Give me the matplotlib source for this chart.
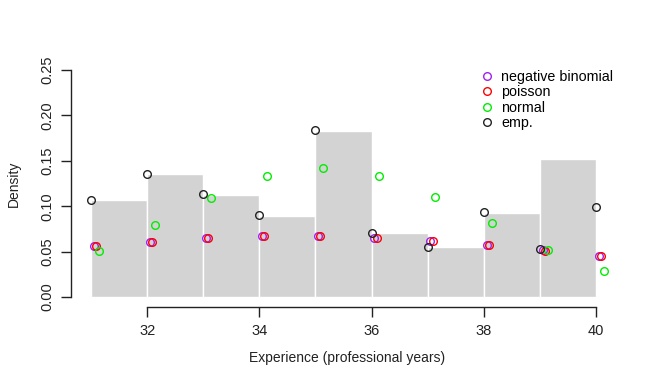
import matplotlib
matplotlib.use("Agg")
import matplotlib.pyplot as plt
import numpy as np

plt.rcParams['font.family'] = ['Liberation Sans', 'DejaVu Sans']

# histogram of experience (density), bins of width 1
bin_edges = [31, 32, 33, 34, 35, 36, 37, 38, 39, 40]
hist_density = [0.107, 0.135, 0.112, 0.089, 0.183, 0.070, 0.055, 0.093, 0.152]

# point estimates per year
years = [31, 32, 33, 34, 35, 36, 37, 38, 39, 40]
emp = [0.107, 0.136, 0.113, 0.090, 0.184, 0.071, 0.055, 0.094, 0.053, 0.099]
nbinom = [0.056, 0.061, 0.065, 0.067, 0.067, 0.065, 0.062, 0.057, 0.052, 0.045]
poisson = [0.056, 0.061, 0.065, 0.067, 0.067, 0.065, 0.062, 0.057, 0.051, 0.045]
normal = [0.051, 0.079, 0.109, 0.133, 0.142, 0.133, 0.110, 0.081, 0.052, 0.029]

W, H = 654, 382
fig = plt.figure(figsize=(W / 100, H / 100), dpi=100)
ax = fig.add_axes([71 / W, 1 - 307 / H, (624 - 71) / W, (307 - 61) / H])

# bars
lefts = np.array(bin_edges[:-1])
widths = np.diff(bin_edges)
ax.bar(lefts, hist_density, width=widths, align='edge',
       color='#d3d3d3', edgecolor='white', linewidth=1.0, zorder=1)

yrs = np.array(years)
series = [
    (nbinom, 0.05, '#a020f0', 'negative binomial'),
    (poisson, 0.09, '#ff0000', 'poisson'),
    (normal, 0.14, '#00ee00', 'normal'),
    (emp, 0.0, '#222222', 'emp.'),
]
handles = []
for vals, off, col, lab in series:
    h, = ax.plot(yrs + off, vals, linestyle='none', marker='o', ms=5.5,
                 mfc='none', mec=col, mew=1.0, label=lab, zorder=3)
    handles.append(h)

ax.set_xlim(31 - 20 / 56.1, 40.5)
ax.set_ylim(-0.011, 0.26)

for s in ['top', 'right']:
    ax.spines[s].set_visible(False)
ax.spines['left'].set_bounds(0, 0.25)
ax.spines['bottom'].set_bounds(32, 40)
for s in ['left', 'bottom']:
    ax.spines[s].set_linewidth(1.0)
    ax.spines[s].set_color('#222222')

ax.set_xticks([32, 34, 36, 38, 40])
ax.set_yticks([0.0, 0.05, 0.10, 0.15, 0.20, 0.25])
ax.set_yticklabels(['0.00', '0.05', '0.10', '0.15', '0.20', '0.25'],
                   rotation=90, va='center')
ax.tick_params(axis='both', length=7, width=1.0, color='#222222',
               labelsize=10.5, labelcolor='#222222')
ax.tick_params(axis='x', pad=5)
ax.tick_params(axis='y', pad=5)

ax.set_xlabel('Experience (professional years)', fontsize=10, color='#222222', labelpad=9.5)
ax.set_ylabel('Density', fontsize=10, color='#222222', labelpad=14)

fig.legend(handles=handles, loc='upper left',
           bbox_to_anchor=(477 / W, 1 - 64 / H), frameon=False,
           fontsize=10.3, handlelength=0.6, handletextpad=0.7,
           labelspacing=0.1, borderaxespad=0)

fig.savefig('out.png', dpi=100)
